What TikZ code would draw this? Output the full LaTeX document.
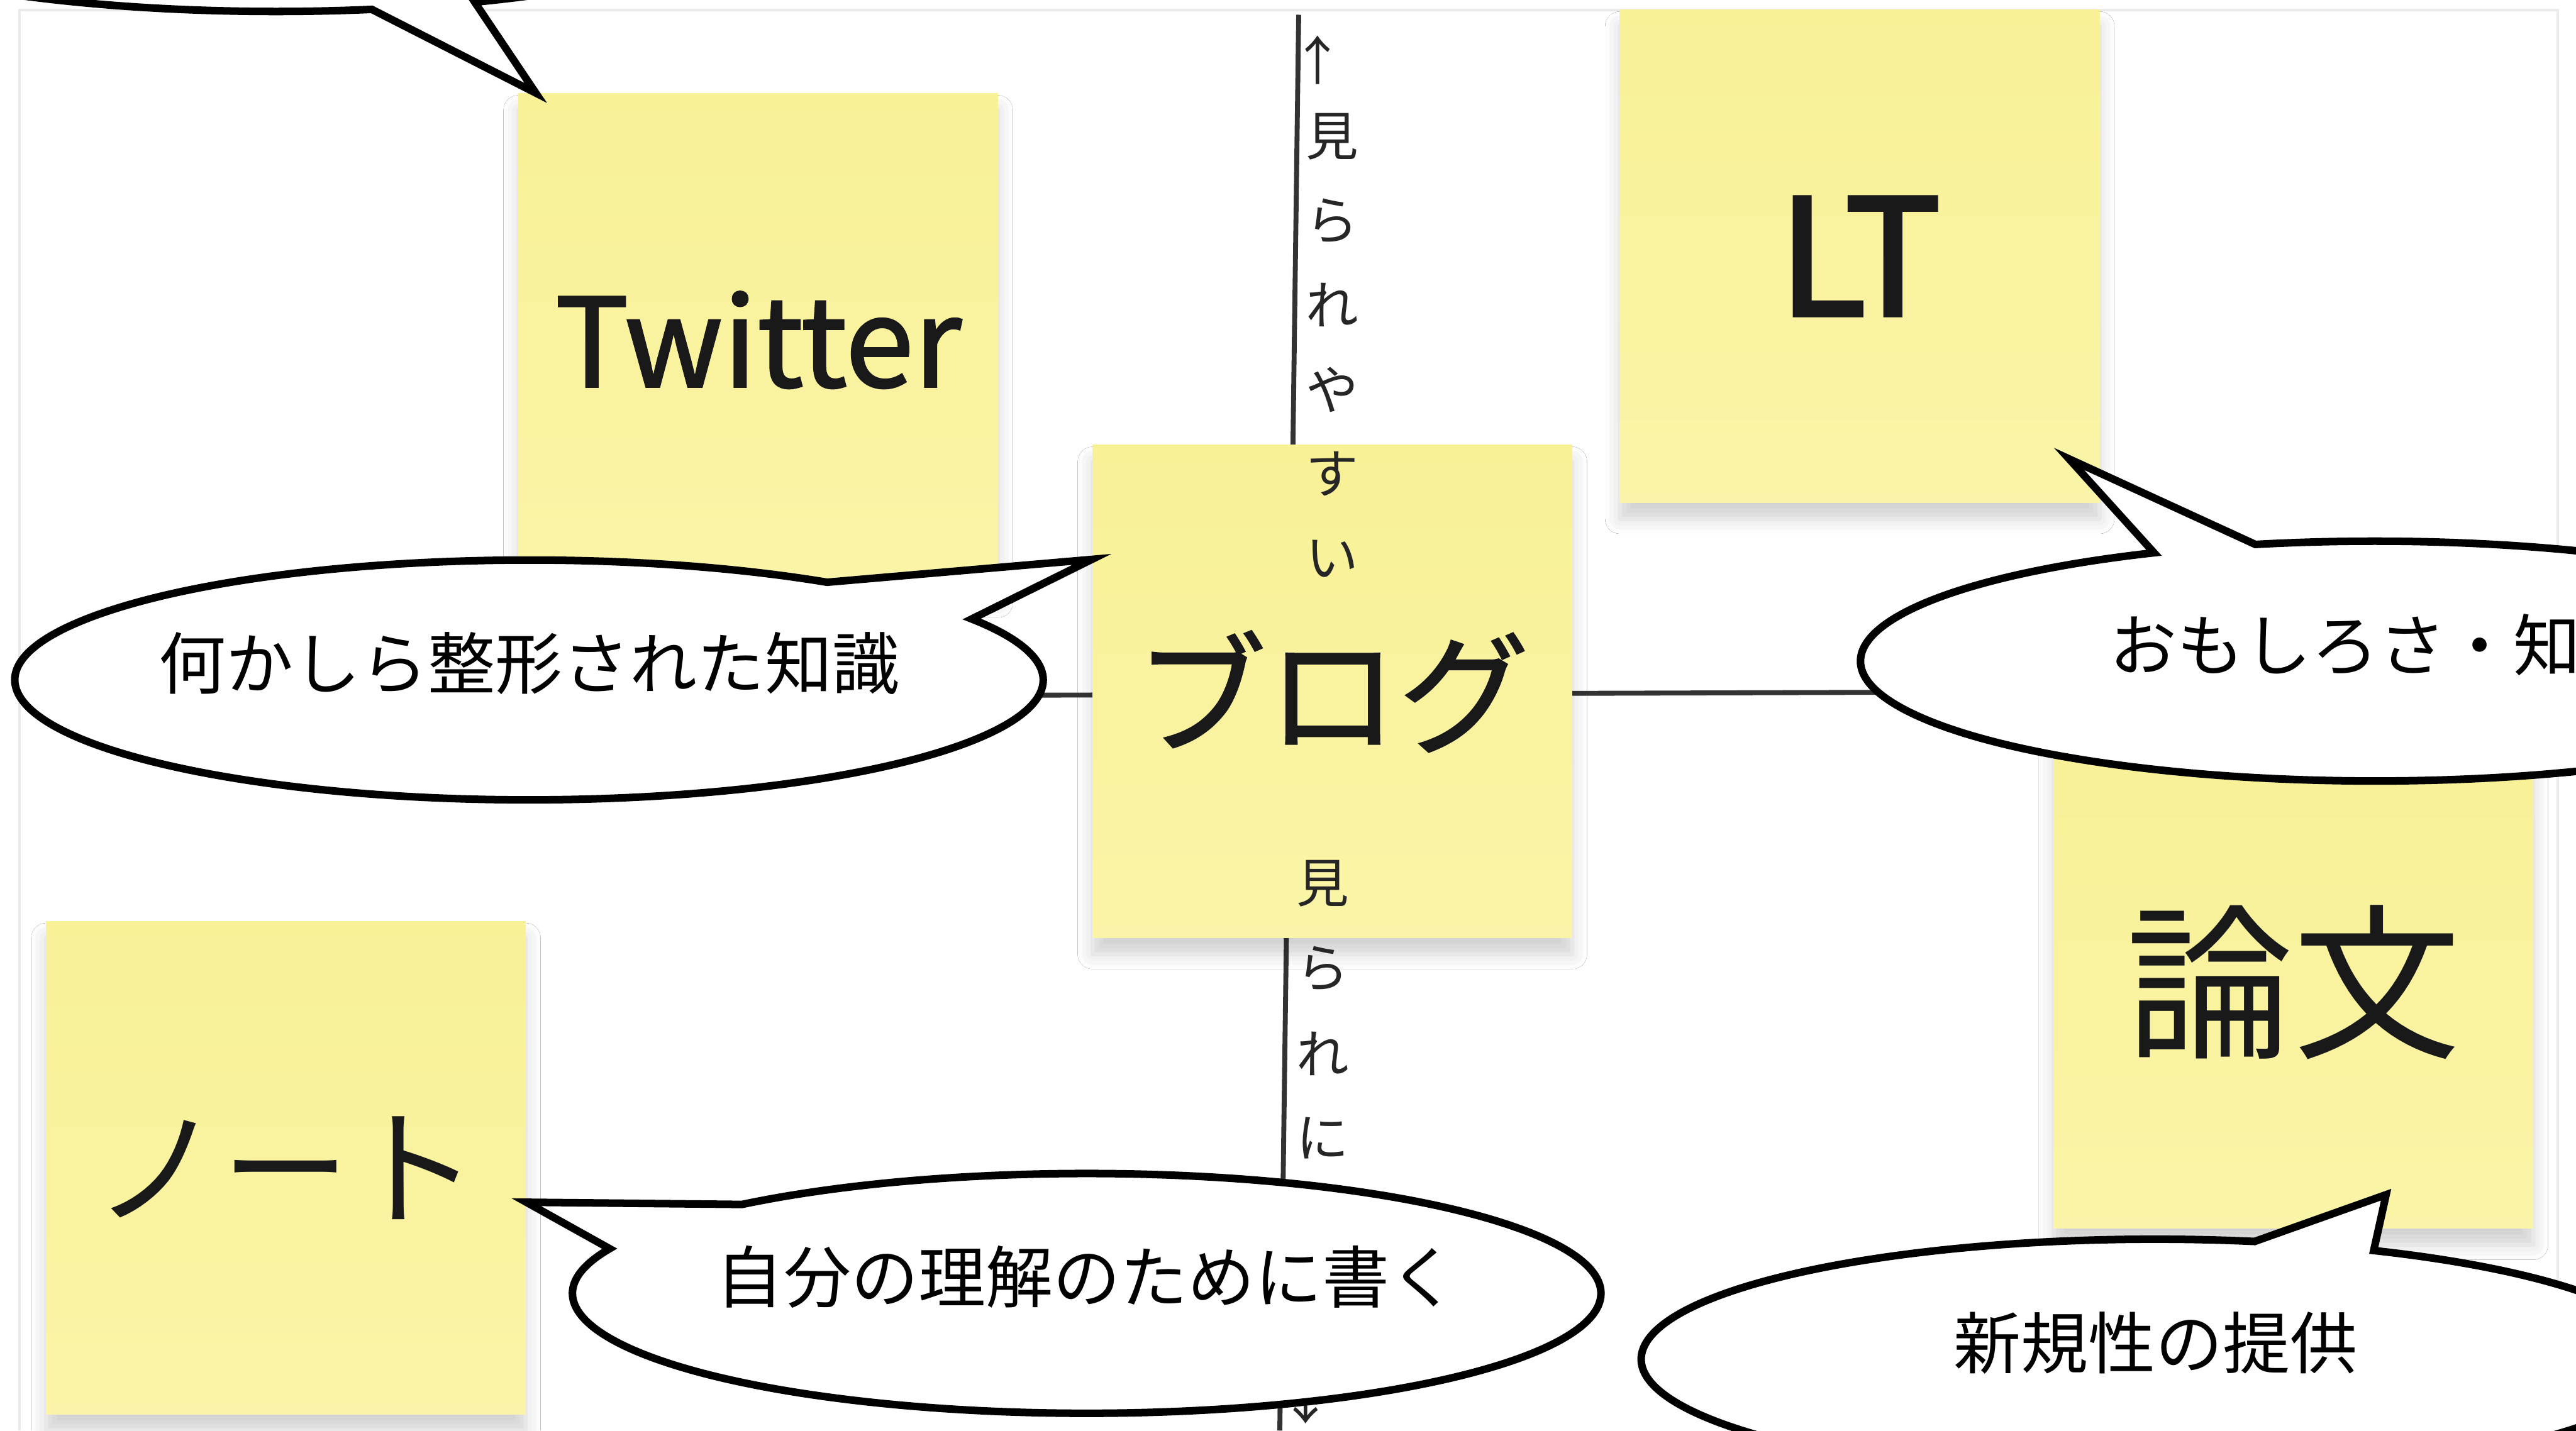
\documentclass[tikz,border=0pt]{standalone}
\usepackage{fontspec}
\setmainfont{Noto Sans CJK JP}
\usetikzlibrary{shapes.callouts,shadows.blur}

\definecolor{stickytop}{RGB}{248,241,150}
\definecolor{stickybot}{RGB}{250,244,168}
\definecolor{axisgray}{RGB}{51,51,51}
\definecolor{framegray}{RGB}{234,234,234}

\newcommand{\fsz}[1]{\fontsize{#1}{#1}\selectfont}

\begin{document}
\begin{tikzpicture}[x=0.5pt, y=-0.5pt,
    sticky/.style={rectangle, inner sep=0pt, minimum width=146pt, minimum height=150pt,
        top color=stickytop, bottom color=stickybot, text=black!90,
        blur shadow={shadow xshift=0pt, shadow yshift=-5pt, shadow blur radius=4.5pt, shadow opacity=18}},
    bubble/.style={ellipse callout, draw=black, fill=white, line width=2.3pt, line join=miter,
        minimum width=313pt, minimum height=73pt, inner sep=0pt},
    bubbletext/.style={font=\fsz{20.5pt}, text=black, yshift=5pt},
    vlabel/.style={font=\fsz{16pt}, text=black!85, inner sep=0pt},
    axis/.style={axisgray, line width=1.5pt}]

    % page
    \useasboundingbox (0,0) rectangle (1568,871);
    \clip (0,0) rectangle (1568,871);
    \fill[white] (0,0) rectangle (1568,871);
    \draw[framegray, line width=0.8pt] (12,871) -- (12,6) -- (1557,6) -- (1557,871);

    % axis
    \draw[axis] (790.5,9) -- (779,871);
    \draw[axis] (420,424) -- (1300,421);

    % sticky notes
    \node[sticky, font=\fsz{37.5pt}\addfontfeatures{FakeBold=1.5}] (twitter) at (461.5,207) {Twitter};
    \node[sticky, font=\fsz{49pt}\addfontfeatures{FakeBold=2.5}] (lt) at (1132,156) {LT};
    \node[sticky, font=\fsz{40pt}\addfontfeatures{FakeBold=1}] (blog) at (811,421) {ブログ};
    \node[sticky, font=\fsz{51pt}] (paper) at (1396,598) {論文};
    \node[sticky, font=\fsz{39pt}] (note) at (174,711) {ノート};

    % axis labels
    \node[vlabel] (uparrow) at (802,36.5) {↑};
    \foreach \ch [count=\i] in {見,ら,れ,や,す,い}
        \node[vlabel] (up\i) at (811,83+51.4*\i-51.4) {\ch};
    \foreach \ch [count=\i] in {見,ら,れ,に}
        \node[vlabel] (dn\i) at (805,538+51.7*\i-51.7) {\ch};
    \node[vlabel] (downarrow) at (795,852) {↓};

    % pointer tips
    \coordinate (tipTL) at ([xshift=5.5pt]twitter.north west);
    \coordinate (tipKnow) at ([yshift=-35pt]blog.north west);
    \coordinate (tipFun) at ([shift={(-19,-27)}]lt.south east);
    \coordinate (tipSelf) at ([shift={(0,21)}]note.east);
    \coordinate (tipNew) at ([shift={(-90,-21)}]paper.south east);

    % callouts
    \node[bubble, callout pointer arc=12, callout absolute pointer={(tipTL)}] (callTL) at (168,-66) {};
    \node[bubble, callout pointer arc=24, callout absolute pointer={(tipKnow)},
        label={[bubbletext]center:何かしら整形された知識}] (callKnow) at (322,414) {};
    \node[bubble, callout pointer arc=12, callout absolute pointer={(tipFun)},
        label={[bubbletext, xshift=-9pt]center:おもしろさ・知}] (callFun) at (1445.5,402.5) {};
    \node[bubble, callout pointer arc=26, callout absolute pointer={(tipSelf)},
        label={[bubbletext]center:自分の理解のために書く}] (callSelf) at (661.5,787.5) {};
    \node[bubble, callout pointer arc=14, callout absolute pointer={(tipNew)},
        label={[bubbletext]center:新規性の提供}] (callNew) at (1312,827.5) {};
\end{tikzpicture}
\end{document}
